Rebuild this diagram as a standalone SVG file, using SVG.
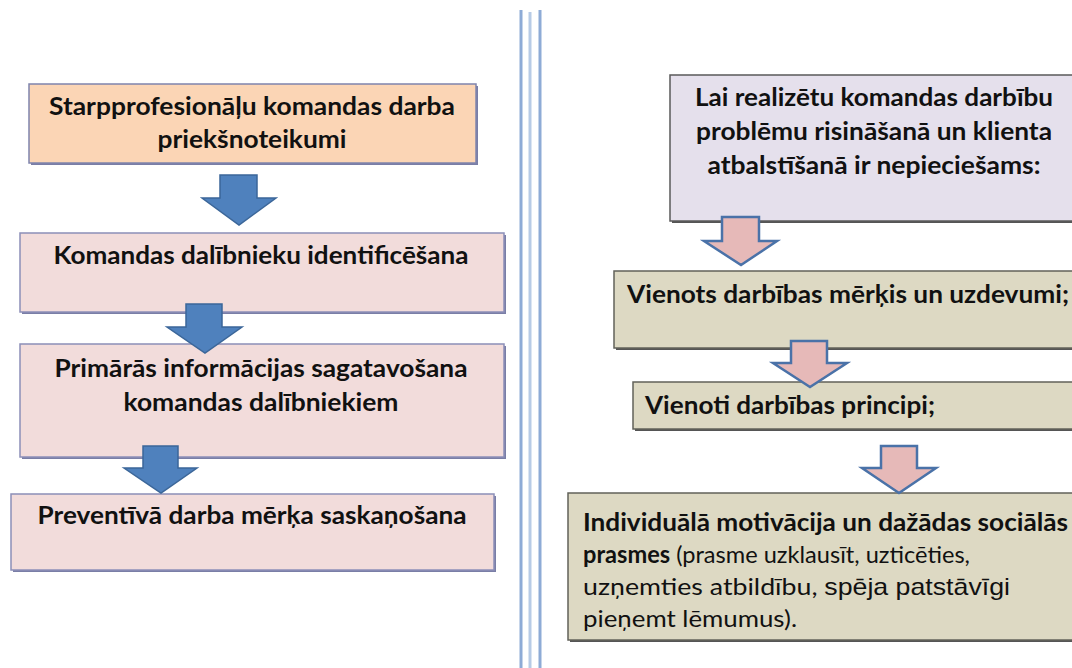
<svg xmlns="http://www.w3.org/2000/svg" width="1072" height="668" viewBox="0 0 1072 668">
<style>
.t{font-family:Lato,"Open Sans",sans-serif;fill:#111;font-size:24px}
.b{font-weight:bold}
.ar{font-family:"Liberation Sans",Arial,sans-serif;font-size:24px}
.pe{fill:#FBD5B5;stroke:#7F84AD;stroke-width:1.5}
.lb{fill:#F2DCDB;stroke:#8C8FB8;stroke-width:1.5}
.rv{fill:#E5E0EC;stroke:#5A5A5A;stroke-width:1.5}
.rt{fill:#DDD9C3;stroke:#62625A;stroke-width:1.5}
.shl{fill:#7A7EA6}
.shr{fill:#555555}
.ab{fill:#4F81BD;stroke:#3B6699;stroke-width:1.5;stroke-linejoin:miter}
.ap{fill:#E6B9B8;stroke:#4A72A8;stroke-width:2.5;stroke-linejoin:miter}
.vl{stroke-width:3}
</style>
<rect width="1072" height="668" fill="#ffffff"/>
<g id="divider">
<line class="vl" x1="521" y1="10" x2="521" y2="668" stroke="#8EABD6"/>
<line class="vl" x1="530" y1="12" x2="530" y2="668" stroke="#B7CBE6"/>
<line class="vl" x1="540" y1="10" x2="540" y2="668" stroke="#8EABD6"/>
</g>
<g id="n1">
<rect class="shl" x="31" y="86" width="447" height="79"/>
<rect class="pe" x="29" y="84" width="447" height="79"/>
<text class="t b" x="252" y="115" text-anchor="middle" textLength="406" lengthAdjust="spacingAndGlyphs">Starpprofesionāļu komandas darba</text>
<text class="t b" x="252" y="148" text-anchor="middle" textLength="189" lengthAdjust="spacingAndGlyphs">priekšnoteikumi</text>
</g>
<g id="n2">
<rect class="shl" x="22" y="235" width="484" height="79"/>
<rect class="lb" x="20" y="233" width="484" height="79"/>
<text class="t b" x="261" y="264" text-anchor="middle" textLength="415" lengthAdjust="spacingAndGlyphs">Komandas dalībnieku identificēšana</text>
</g>
<g id="n3">
<rect class="shl" x="22" y="346" width="484" height="113"/>
<rect class="lb" x="20" y="344" width="484" height="113"/>
<text class="t b" x="261" y="377" text-anchor="middle" textLength="413" lengthAdjust="spacingAndGlyphs">Primārās informācijas sagatavošana</text>
<text class="t b" x="261" y="411" text-anchor="middle" textLength="275" lengthAdjust="spacingAndGlyphs">komandas dalībniekiem</text>
</g>
<g id="n4">
<rect class="shl" x="13" y="496" width="483" height="76"/>
<rect class="lb" x="11" y="494" width="483" height="76"/>
<text class="t b" x="252" y="524" text-anchor="middle" textLength="429" lengthAdjust="spacingAndGlyphs">Preventīvā darba mērķa saskaņošana</text>
</g>
<g id="r1">
<rect class="shr" x="672" y="77" width="410" height="146"/>
<rect class="rv" x="670" y="75" width="410" height="146"/>
<text class="t b" x="874" y="106" text-anchor="middle" textLength="358" lengthAdjust="spacingAndGlyphs">Lai realizētu komandas darbību</text>
<text class="t b" x="874" y="140" text-anchor="middle" textLength="356" lengthAdjust="spacingAndGlyphs">problēmu risināšanā un klienta</text>
<text class="t b" x="874" y="174" text-anchor="middle" textLength="333" lengthAdjust="spacingAndGlyphs">atbalstīšanā ir nepieciešams:</text>
</g>
<g id="r2">
<rect class="shr" x="616" y="273" width="470" height="77"/>
<rect class="rt" x="614" y="271" width="470" height="77"/>
<text class="t b" x="627" y="303" textLength="442" lengthAdjust="spacingAndGlyphs">Vienots darbības mērķis un uzdevumi;</text>
</g>
<g id="r3">
<rect class="shr" x="635" y="384" width="450" height="47"/>
<rect class="rt" x="633" y="382" width="450" height="47"/>
<text class="t b" x="645" y="414" textLength="290" lengthAdjust="spacingAndGlyphs">Vienoti darbības principi;</text>
</g>
<g id="r4">
<rect class="shr" x="570" y="495" width="515" height="147"/>
<rect class="rt" x="568" y="493" width="515" height="147"/>
<text class="t b" x="583" y="531" textLength="485" lengthAdjust="spacingAndGlyphs">Individuālā motivācija un dažādas sociālās</text>
<text class="t" x="583" y="563" textLength="387" lengthAdjust="spacingAndGlyphs"><tspan class="b">prasmes</tspan> (prasme uzklausīt, uzticēties,</text>
<text class="t" x="583" y="595" textLength="427" lengthAdjust="spacingAndGlyphs">uzņemties atbildību, <tspan class="ar">spēja patstāvīgi</tspan></text>
<text class="t" x="583" y="627" textLength="214" lengthAdjust="spacingAndGlyphs">pieņemt lēmumus).</text>
</g>
<g id="connectors">
<polygon class="ab" points="220,175 257,175 257,198 276,198 239,225 202,198 220,198"/>
<polygon class="ab" points="186,304 222,304 222,327 242,327 205,353 167,327 186,327"/>
<polygon class="ab" points="143,446 178,446 178,468 197,468 161,493 124,468 143,468"/>
<polygon class="ap" points="722,217 759,217 759,241 777,241 741,265 704,241 722,241"/>
<polygon class="ap" points="791,341 827,341 827,363 847,363 810,387 773,363 791,363"/>
<polygon class="ap" points="881,446 917,446 917,468 936,468 899,493 862,468 881,468"/>
</g>
</svg>
